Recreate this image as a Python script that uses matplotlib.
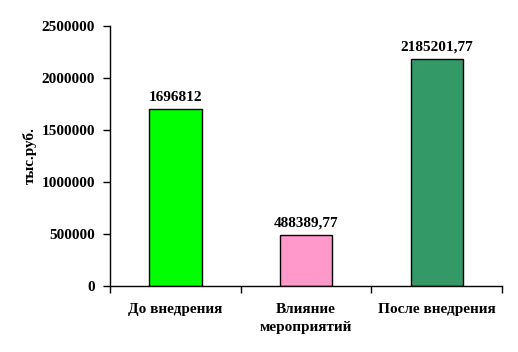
import matplotlib
matplotlib.use("Agg")
import matplotlib.pyplot as plt
import numpy as np

categories = ["До внедрения", "Влияние\nмероприятий", "После внедрения"]
values = [1696812, 488389.77, 2185201.77]
value_labels = ["1696812", "488389,77", "2185201,77"]
colors = ["#00FF00", "#FF99CC", "#339966"]

plt.rcParams['font.family'] = ['Liberation Serif', 'DejaVu Serif']
plt.rcParams['font.weight'] = 'bold'

fig = plt.figure(figsize=(5.18, 3.52), dpi=100)
ax = fig.add_axes([0.2124, 0.1875, 0.757, 0.739])

x = np.arange(len(categories))
rects = ax.bar(x, values, width=0.4, color=colors, edgecolor="black", linewidth=1)

for rect, lab in zip(rects, value_labels):
    ax.text(rect.get_x() + rect.get_width() / 2, rect.get_height() + 50000, lab,
            ha="center", va="bottom", fontsize=11, fontweight="bold")

ax.set_xlim(-0.5, len(categories) - 0.5)
ax.set_ylim(0, 2500000)
ax.set_yticks(np.arange(0, 2500001, 500000))
ax.set_yticklabels([str(v) for v in np.arange(0, 2500001, 500000)], fontsize=11, fontweight="bold")

ax.set_xticks(x)
ax.set_xticklabels(categories, fontsize=11, fontweight="bold", linespacing=1.55)
ax.set_xticks(np.arange(-0.5, len(categories)), minor=True)
ax.tick_params(axis="x", which="major", length=0, pad=12)
ax.tick_params(axis="x", which="minor", length=5, direction="out", width=1)
ax.tick_params(axis="y", length=5, direction="out", width=1, pad=6)

ax.spines["top"].set_visible(False)
ax.spines["right"].set_visible(False)
ax.spines["left"].set_linewidth(1)
ax.spines["bottom"].set_linewidth(1)

ax.set_ylabel("тыс.руб.", fontsize=11, fontweight="bold", labelpad=3)

fig.savefig("out.png", dpi=100)
